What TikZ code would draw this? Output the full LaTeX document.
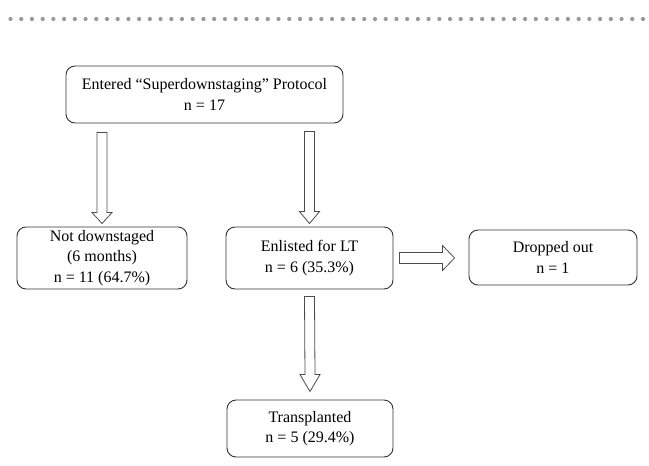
\documentclass[tikz,border=0pt]{standalone}
\usepackage{fontspec}
\setmainfont{Liberation Serif}
\usetikzlibrary{positioning, calc}

\tikzset{
  stagebox/.style={draw=black!80, line width=0.9pt, rounded corners=9pt,
    align=center, inner sep=0pt, font=\fontsize{16}{20.5}\selectfont},
  blockarrow/.style={draw=black!70, line width=0.8pt, fill=white},
}

% hollow block arrows: start, tip, head length
\newcommand{\vblock}[3]{%
  \draw[blockarrow] ($(#1)+(-5,0)$) -- ($(#1)+(5,0)$) -- ($(#2)+(5,-#3)$)
    -- ($(#2)+(10,-#3)$) -- (#2) -- ($(#2)+(-10,-#3)$) -- ($(#2)+(-5,-#3)$) -- cycle;}
\newcommand{\hblock}[3]{%
  \draw[blockarrow] ($(#1)+(0,-5.5)$) -- ($(#2)+(-#3,-5.5)$) -- ($(#2)+(-#3,-12.5)$)
    -- (#2) -- ($(#2)+(-#3,12.5)$) -- ($(#2)+(-#3,5.5)$) -- ($(#1)+(0,5.5)$) -- cycle;}

\begin{document}
\begin{tikzpicture}[x=1pt, y=-1pt]
                \useasboundingbox (0,0) rectangle (649,466);
                \foreach \i in {0,...,59}
                    \fill[black!40] (10.5+10.72*\i,19) circle (2.1pt);

                \node[stagebox, minimum width=277, minimum height=57] (top) at (204.5,94.5)
                    {Entered “Superdownstaging” Protocol\\n = 17};
                \node[stagebox, minimum width=170, minimum height=62] (left) at (102,258)
                    {Not downstaged\\(6 months)\\n = 11 (64.7\%)};
                \node[stagebox, minimum width=167, minimum height=62] (mid) at (309.5,258)
                    {Enlisted for LT\\n = 6 (35.3\%)};
                \node[stagebox, minimum width=168, minimum height=55] (drop) at (553,257.5)
                    {Dropped out\\n = 1};
                \node[stagebox, minimum width=166, minimum height=57] (trans) at (310,428.5)
                    {Transplanted\\n = 5 (29.4\%)};

                \coordinate (l1) at ($(left.north |- top.south)+(0,9)$);
                \coordinate (l2) at ($(left.north)+(0,-3)$);
                \coordinate (m1) at ($(mid.north |- top.south)+(0,8)$);
                \coordinate (m2) at ($(mid.north)+(0,-3)$);
                \coordinate (t1) at ($(mid.south)+(0,7)$);
                \coordinate (t2) at ($(trans.north)+(0,-8)$);
                \coordinate (d1) at ($(mid.east)+(6,0)$);
                \coordinate (d2) at ($(drop.west |- mid.east)+(-14,0)$);

                \vblock{l1}{l2}{11}
                \vblock{m1}{m2}{12}
                \vblock{t1}{t2}{17}
                \hblock{d1}{d2}{12}
            \end{tikzpicture}
\end{document}
